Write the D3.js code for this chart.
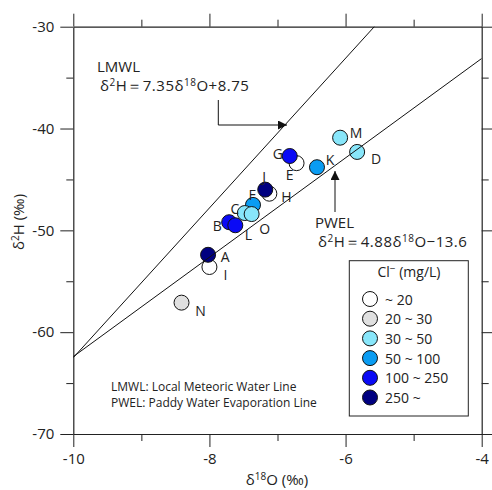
<!DOCTYPE html>
<html>
<head>
<meta charset="utf-8">
<script src="https://cdn.jsdelivr.net/npm/d3@7"></script>
<style>
  body { margin: 0; background: #fff; }
  text { font-family: "Open Sans", "Noto Sans", sans-serif; fill: #222; }
</style>
</head>
<body>
<script>
'use strict';

// sample labels, values and chloride class (index into classNames)
const names = ["E", "G", "H", "J", "I", "A", "N", "F", "C", "O", "B", "L", "K", "M", "D"];
const d18O = [-6.72, -6.82, -7.12, -7.18, -8.00, -8.02, -8.41, -7.36, -7.48, -7.38, -7.71, -7.62, -6.42, -6.08, -5.83];
const d2H = [-43.4, -42.7, -46.4, -46.0, -53.6, -52.4, -57.1, -47.5, -48.3, -48.4, -49.2, -49.5, -43.8, -40.9, -42.3];
const clClass = [0, 4, 0, 5, 0, 5, 1, 3, 2, 2, 4, 4, 3, 2, 2];

const classNames = ["~ 20", "20 ~ 30", "30 ~ 50", "50 ~ 100", "100 ~ 250", "250 ~"];
const classColors = ["#ffffff", "#e0e0e0", "#88e6fa", "#0a9cf2", "#0a0af5", "#000080"];

const xTicks = [-10, -8, -6, -4];
const yTicks = [-70, -60, -50, -40, -30];

// lines as drawn (slope, intercept)
const lineNames = ["LMWL", "PWEL"];
const lineSlope = [7.35, 4.88];
const lineIntercept = [11.0, -13.6];

(function() {
  const width = 492, height = 490;
  const svg = d3.select('body').append('svg')
    .attr('width', width)
    .attr('height', height);

  const x = d3.scaleLinear().domain([-10, -4]).range([73.3, 481.7]);
  const y = d3.scaleLinear().domain([-70, -30]).range([434, 26.7]);

  // label offsets from the circle (pixels)
  const labelOffset = {
    A: [17, 2], I: [16, 7], N: [19, 8], B: [-12, 3], L: [13, 9], C: [-10, -5],
    O: [13, 14], F: [-1, -10], J: [-1, -13], H: [17, 3], G: [-12, -3],
    E: [-7, 11], K: [13, -8], M: [16, -5], D: [19, 7]
  };

  const fmt = d => String(d);

  // axes: major ticks outward on all four sides, minor ones shorter
  function drawAxis(axisFn, scale, ticks, minor, transform) {
    const g = svg.append('g').attr('transform', transform);
    g.call(axisFn(scale).tickValues(minor).tickSize(7).tickFormat(''));
    g.select('.domain').remove();
    g.selectAll('line').attr('stroke', '#222');
    const g3 = svg.append('g').attr('transform', transform);
    g3.call(axisFn(scale).tickValues(ticks).tickSize(13).tickSizeOuter(0).tickFormat(fmt));
    g3.selectAll('.domain').attr('stroke', '#222').attr('stroke-width', 1.2);
    g3.selectAll('line').attr('stroke', '#222');
    return g3;
  }
  const xMinor = [-9, -7, -5];
  const yMinor = [-65, -55, -45, -35];

  const axBottom = drawAxis(d3.axisBottom, x, xTicks, xMinor, 'translate(0,434)');
  axBottom.selectAll('text').style('font-size', '15px').attr('y', 19).attr('fill', '#222');
  const axTop = drawAxis(d3.axisTop, x, xTicks, xMinor, 'translate(0,26.7)');
  axTop.selectAll('text').remove();
  const axLeft = drawAxis(d3.axisLeft, y, yTicks, yMinor, 'translate(73.3,0)');
  axLeft.selectAll('text').style('font-size', '15px').attr('x', -19).attr('fill', '#222');
  const axRight = drawAxis(d3.axisRight, y, yTicks, yMinor, 'translate(481.7,0)');
  axRight.selectAll('text').remove();

  // clip for lines
  svg.append('clipPath').attr('id', 'plotClip')
    .append('rect')
    .attr('x', x(-10)).attr('y', y(-30))
    .attr('width', x(-4) - x(-10)).attr('height', y(-70) - y(-30));

  // points
  const pts = names.map((n, i) => ({ name: n, x: d18O[i], y: d2H[i], c: clClass[i] }));

  svg.append('g').selectAll('circle')
    .data(pts)
    .enter()
    .append('circle')
    .attr('cx', d => x(d.x))
    .attr('cy', d => y(d.y))
    .attr('r', 7.5)
    .attr('fill', d => classColors[d.c])
    .attr('stroke', '#111')
    .attr('stroke-width', 1);

  svg.append('g').selectAll('text')
    .data(pts)
    .enter()
    .append('text')
    .attr('x', d => x(d.x) + labelOffset[d.name][0])
    .attr('y', d => y(d.y) + labelOffset[d.name][1])
    .attr('text-anchor', 'middle')
    .attr('dominant-baseline', 'central')
    .style('font-size', '14px')
    .text(d => d.name);

  // regression lines
  const lineGen = d3.line().x(d => x(d[0])).y(d => y(d[1]));
  svg.append('g').attr('clip-path', 'url(#plotClip)')
    .selectAll('path')
    .data(lineNames.map((n, i) => [[-10, lineSlope[i] * -10 + lineIntercept[i]], [-4, lineSlope[i] * -4 + lineIntercept[i]]]))
    .enter()
    .append('path')
    .attr('d', lineGen)
    .attr('fill', 'none')
    .attr('stroke', '#111')
    .attr('stroke-width', 1);

  // arrows
  svg.append('defs').append('marker')
    .attr('id', 'arrow')
    .attr('viewBox', '0 0 10 10')
    .attr('refX', 10).attr('refY', 5)
    .attr('markerWidth', 9).attr('markerHeight', 9)
    .attr('markerUnits', 'userSpaceOnUse')
    .attr('orient', 'auto')
    .append('path').attr('d', 'M0,0L10,5L0,10Z').attr('fill', '#111');

  svg.append('path')
    .attr('d', 'M218.3,100V125H287')
    .attr('fill', 'none').attr('stroke', '#111').attr('stroke-width', 1)
    .attr('marker-end', 'url(#arrow)');
  svg.append('path')
    .attr('d', 'M335,212V171')
    .attr('fill', 'none').attr('stroke', '#111').attr('stroke-width', 1)
    .attr('marker-end', 'url(#arrow)');

  // equation labels
  function equation(xp, yp, name, slope, sign, icpt) {
    svg.append('text').attr('x', xp).attr('y', yp).style('font-size', '15px').text(name);
    const t = svg.append('text').attr('x', xp + 3).attr('y', yp + 19)
      .style('font-size', '15px').style('letter-spacing', '0.5px');
    t.append('tspan').text('δ');
    t.append('tspan').attr('dy', -5).style('font-size', '10px').text('2');
    t.append('tspan').attr('dy', 5).text('H＝' + slope + 'δ');
    t.append('tspan').attr('dy', -5).style('font-size', '10px').text('18');
    t.append('tspan').attr('dy', 5).text('O' + sign + icpt);
  }
  equation(97, 72, 'LMWL', '7.35', '+', '8.75');
  equation(315, 228, 'PWEL', '4.88', '−', '13.6');

  // note
  svg.append('text').attr('x', 111).attr('y', 391).style('font-size', '12px')
    .text('LMWL: Local Meteoric Water Line');
  svg.append('text').attr('x', 111).attr('y', 407).style('font-size', '12px')
    .text('PWEL: Paddy Water Evaporation Line');

  // legend
  const lg = svg.append('g');
  lg.append('rect')
    .attr('x', 349.3).attr('y', 260.7)
    .attr('width', 119).attr('height', 155.3)
    .attr('fill', '#fff').attr('stroke', '#222').attr('stroke-width', 1);
  const lt = lg.append('text').attr('x', 409).attr('y', 277)
    .attr('text-anchor', 'middle').style('font-size', '14px');
  lt.append('tspan').text('Cl');
  lt.append('tspan').attr('dy', -5).style('font-size', '10px').text('−');
  lt.append('tspan').attr('dy', 5).text(' (mg/L)');

  const rows = lg.selectAll('.row')
    .data(classNames)
    .enter()
    .append('g')
    .attr('transform', (d, i) => 'translate(370,' + (299 + i * 19.7) + ')');
  rows.append('circle')
    .attr('r', 7.5)
    .attr('fill', (d, i) => classColors[i])
    .attr('stroke', '#111');
  rows.append('text')
    .attr('x', 15)
    .attr('dominant-baseline', 'central')
    .style('font-size', '14px')
    .text(d => d);

  // axis titles
  const xt = svg.append('text').attr('x', 277).attr('y', 485)
    .attr('text-anchor', 'middle').style('font-size', '15px');
  xt.append('tspan').text('δ');
  xt.append('tspan').attr('dy', -5).style('font-size', '10px').text('18');
  xt.append('tspan').attr('dy', 5).text('O (‰)');

  const yt = svg.append('text').attr('transform', 'translate(24,222)rotate(-90)')
    .attr('text-anchor', 'middle').style('font-size', '15px');
  yt.append('tspan').text('δ');
  yt.append('tspan').attr('dy', -5).style('font-size', '10px').text('2');
  yt.append('tspan').attr('dy', 5).text('H (‰)');
})();
</script>
</body>
</html>
